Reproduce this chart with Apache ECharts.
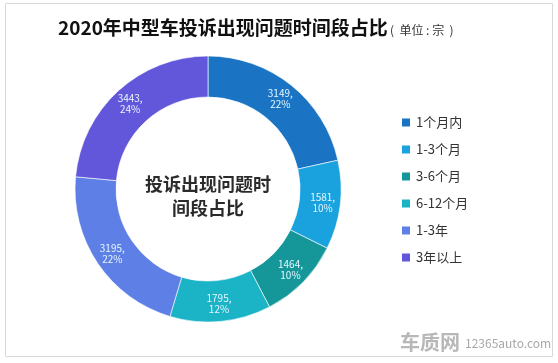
<!DOCTYPE html>
<html><head><meta charset="utf-8">
<script src="https://cdn.jsdelivr.net/npm/echarts@6/dist/echarts.min.js"></script>
<style>html,body{margin:0;padding:0;background:#fff;}#c{width:558px;height:363px;}</style>
</head><body><div id="c"></div>
<script>
const categories = ['1个月内','1-3个月','3-6个月','6-12个月','1-3年','3年以上'];
const values = [3149,1581,1464,1795,3195,3443];
const pctLabels = ['22%','10%','10%','12%','22%','24%'];
const colors = ['#1A74C3','#1AA2DF','#15979A','#1BB4C6','#5E80E6','#6257DA'];

const chart = echarts.init(document.getElementById('c'));
const font = '"Noto Sans CJK SC","Noto Sans",sans-serif';
chart.setOption({
  animation:false,
  textStyle:{fontFamily:font},
  graphic:[
    {type:'rect',shape:{x:5.5,y:3.5,width:547,height:353},style:{fill:'none',stroke:'#d8d8d8',lineWidth:1}},
    {type:'text',x:58,y:28,style:{text:'2020年中型车投诉出现问题时间段占比',font:'bold 19px '+font,fill:'#111',verticalAlign:'middle'}},
    {type:'text',x:390,y:30,style:{text:'(  单位 : 宗  )',font:'12px '+font,fill:'#333',verticalAlign:'middle'}},
    {type:'text',x:208,y:196,style:{text:'投诉出现问题时\n间段占比',font:'bold 18px '+font,fill:'#2b2b2b',align:'center',verticalAlign:'middle',lineHeight:24}},
    {type:'text',x:400,y:342,style:{text:'车质网',font:'bold 20px '+font,fill:'#b8b8b8',verticalAlign:'middle'}},
    {type:'text',x:465,y:343,style:{text:'12365auto.com',font:'12px '+font,fill:'#a8a8a8',verticalAlign:'middle'}}
  ],
  legend:{
    orient:'vertical',left:395,top:111,itemWidth:10,itemHeight:10,itemGap:14,icon:'rect',
    textStyle:{fontSize:13,color:'#333',fontFamily:font},
    data:categories
  },
  series:[{
    type:'pie',center:[208,189],radius:[92,133],startAngle:90,clockwise:true,
    itemStyle:{borderColor:'#fff',borderWidth:0.6},
    label:{show:true,position:'inside',color:'#e6f7ff',fontSize:10,lineHeight:11,
      formatter:p=>values[p.dataIndex]+',\n'+pctLabels[p.dataIndex]},
    labelLine:{show:false},
    data:categories.map((c,i)=>({name:c,value:values[i],itemStyle:{color:colors[i]}}))
  }]
});
</script></body></html>
